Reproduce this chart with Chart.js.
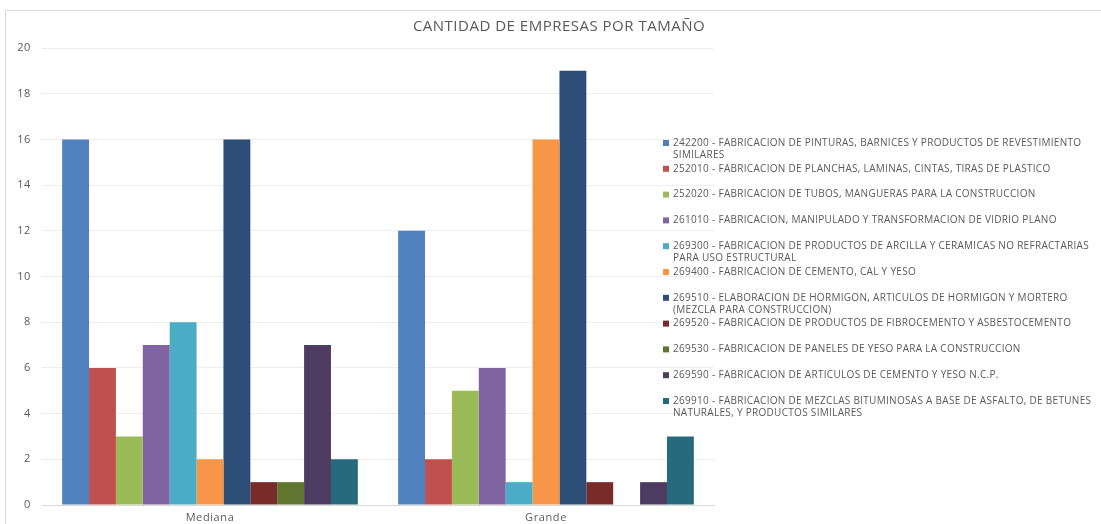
<!DOCTYPE html>
<html>
<head>
<meta charset="utf-8">
<script src="https://cdn.jsdelivr.net/npm/chart.js@4/dist/chart.umd.min.js"></script>
<style>
  html, body { margin: 0; padding: 0; background: #ffffff; }
  #wrap { width: 1101px; height: 524px; position: relative; }
</style>
</head>
<body>
<div id="wrap"><canvas id="chart" width="1101" height="524"></canvas></div>
<script>
// Company counts by size, one series per activity code
const categories = ['Mediana', 'Grande'];

const seriesLabels = [
  ['242200 - FABRICACION DE PINTURAS, BARNICES Y PRODUCTOS DE REVESTIMIENTO', 'SIMILARES'],
  ['252010 - FABRICACION DE PLANCHAS, LAMINAS, CINTAS, TIRAS DE PLASTICO'],
  ['252020 - FABRICACION DE TUBOS, MANGUERAS PARA LA CONSTRUCCION'],
  ['261010 - FABRICACION, MANIPULADO Y TRANSFORMACION DE VIDRIO PLANO'],
  ['269300 - FABRICACION DE PRODUCTOS DE ARCILLA Y CERAMICAS NO REFRACTARIAS', 'PARA USO ESTRUCTURAL'],
  ['269400 - FABRICACION DE CEMENTO, CAL Y YESO'],
  ['269510 - ELABORACION DE HORMIGON, ARTICULOS DE HORMIGON Y MORTERO', '(MEZCLA PARA CONSTRUCCION)'],
  ['269520 - FABRICACION DE PRODUCTOS DE FIBROCEMENTO Y ASBESTOCEMENTO'],
  ['269530 - FABRICACION DE PANELES DE YESO PARA LA CONSTRUCCION'],
  ['269590 - FABRICACION DE ARTICULOS DE CEMENTO Y YESO N.C.P.'],
  ['269910 - FABRICACION DE MEZCLAS BITUMINOSAS A BASE DE ASFALTO, DE BETUNES', 'NATURALES, Y PRODUCTOS SIMILARES']
];

// [Mediana, Grande] per series
const v242200 = [16, 12];
const v252010 = [6, 2];
const v252020 = [3, 5];
const v261010 = [7, 6];
const v269300 = [8, 1];
const v269400 = [2, 16];
const v269510 = [16, 19];
const v269520 = [1, 1];
const v269530 = [1, 0];
const v269590 = [7, 1];
const v269910 = [2, 3];

const seriesValues = [v242200, v252010, v252020, v261010, v269300, v269400,
                      v269510, v269520, v269530, v269590, v269910];

const seriesColors = ['#4F81BD', '#C0504D', '#9BBB59', '#8064A2', '#4BACC6', '#F79646',
                      '#2C4D75', '#772C2A', '#5F7530', '#4D3B62', '#276A7C'];

const yTicks = [0, 2, 4, 6, 8, 10, 12, 14, 16, 18, 20];

const titleText = 'CANTIDAD DE EMPRESAS POR TAMAÑO';

const textColor = '#595959';
const fontFamily = '"Open Sans", "Liberation Sans", sans-serif';

// Light frame along the top and left edges; also widens tick lettering
const framePlugin = {
  id: 'frame',
  beforeDraw(chart) {
    const ctx = chart.ctx;
    ctx.save();
    ctx.fillStyle = '#ffffff';
    ctx.fillRect(0, 0, chart.width, chart.height);
    ctx.strokeStyle = '#d9d9d9';
    ctx.lineWidth = 1;
    ctx.beginPath();
    ctx.moveTo(5.5, chart.height);
    ctx.lineTo(5.5, 10.5);
    ctx.lineTo(chart.width, 10.5);
    ctx.stroke();
    ctx.restore();
    ctx.letterSpacing = '0.6px';
  }
};

// Title and a wrapped legend on the right-hand side
const sideLegendPlugin = {
  id: 'sideLegend',
  afterDraw(chart) {
    const ctx = chart.ctx;
    ctx.save();
    ctx.fillStyle = textColor;
    ctx.font = '15px ' + fontFamily;
    ctx.letterSpacing = '0.5px';
    ctx.textAlign = 'center';
    ctx.textBaseline = 'middle';
    ctx.fillText(titleText, 559, 27);

    ctx.font = '10px ' + fontFamily;
    ctx.letterSpacing = '0.3px';
    ctx.textAlign = 'left';
    const x0 = 663, tx = 673, top = 143, step = 25.8, lineH = 12;
    chart.data.datasets.forEach((ds, i) => {
      const y = top + i * step;
      ctx.fillStyle = ds.backgroundColor;
      ctx.fillRect(x0, y - 3, 6, 6);
      ctx.fillStyle = textColor;
      const lines = Array.isArray(ds.label) ? ds.label : [ds.label];
      lines.forEach((ln, k) => ctx.fillText(ln, tx, y + k * lineH));
    });
    ctx.restore();
  }
};

new Chart(document.getElementById('chart'), {
  type: 'bar',
  data: {
    labels: categories,
    datasets: seriesValues.map((vals, i) => ({
      label: seriesLabels[i],
      data: vals,
      backgroundColor: seriesColors[i],
      borderWidth: 0,
      categoryPercentage: 0.88,
      barPercentage: 1.0
    }))
  },
  options: {
    responsive: false,
    animation: false,
    devicePixelRatio: 1,
    layout: { padding: { left: 0, right: 387, top: 48, bottom: 0 } },
    plugins: {
      legend: { display: false },
      title: { display: false },
      tooltip: { enabled: false }
    },
    scales: {
      x: {
        grid: { display: false, drawTicks: false },
        border: { display: true, color: '#d9d9d9', width: 1 },
        ticks: { color: textColor, font: { family: fontFamily, size: 11 }, padding: 6 },
        afterFit(scale) { scale.height = 19; }
      },
      y: {
        min: 0,
        max: 20,
        afterBuildTicks(scale) { scale.ticks = yTicks.map(v => ({ value: v })); },
        grid: { color: '#eeeeee', drawTicks: false },
        border: { display: false },
        ticks: { color: textColor, font: { family: fontFamily, size: 11 }, padding: 11 },
        afterFit(scale) { scale.width = 42; }
      }
    }
  },
  plugins: [framePlugin, sideLegendPlugin]
});
</script>
</body>
</html>
